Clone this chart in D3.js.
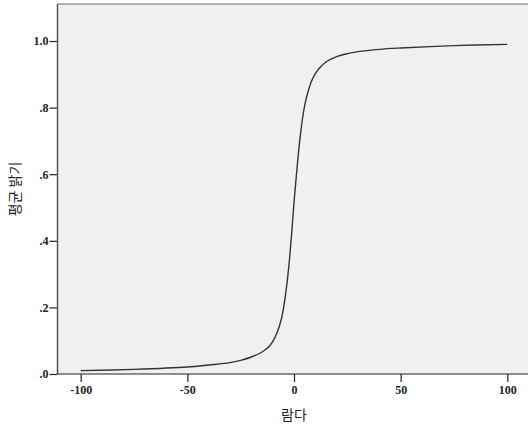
<!DOCTYPE html>
<html><head><meta charset="utf-8">
<script src="https://cdn.jsdelivr.net/npm/d3@7"></script>
<style>body{margin:0;background:#fff}</style>
</head><body>
<script>
const lambda = [-100,-75,-50,-40,-30,-25,-20,-15,-12,-10,-8,-6,-5,-4,-3,-2,-1,0,1,2,3,4,5,6,8,10,12,15,20,25,30,40,50,75,100];
const brightness = [0.010,0.014,0.021,0.027,0.034,0.041,0.051,0.066,0.080,0.097,0.123,0.163,0.195,0.237,0.288,0.352,0.430,0.515,0.588,0.658,0.718,0.768,0.806,0.834,0.876,0.902,0.919,0.937,0.953,0.962,0.968,0.975,0.979,0.986,0.990];
const xTicks = [-100,-50,0,50,100];
const xTickLabels = ["-100","-50","0","50","100"];
const yTicks = [0,0.2,0.4,0.6,0.8,1.0];
const yTickLabels = [".0",".2",".4",".6",".8","1.0"];

(function(){
const W=528,H=425;
const svg=d3.select("body").append("svg").attr("width",W).attr("height",H);
const pL=57.5, pT=4, pR=530, pB=374;
const x=d3.scaleLinear().domain([-100,100]).range([80.7,507.3]);
const y=d3.scaleLinear().domain([0,1]).range([374,41]);

svg.append("rect").attr("x",pL).attr("y",pT).attr("width",pR-pL).attr("height",pB-pT).attr("fill","#f0f0f0");
svg.append("line").attr("x1",pL).attr("x2",pR).attr("y1",pT).attr("y2",pT).attr("stroke","#999").attr("stroke-width",1.5);

const line=d3.line().x((d,i)=>x(lambda[i])).y(d=>y(d)).curve(d3.curveCatmullRom.alpha(0.5));
svg.append("path").datum(brightness).attr("d",line).attr("fill","none").attr("stroke","#333").attr("stroke-width",1.4);

const font="'Liberation Serif','DejaVu Serif',serif";
const yAxis=svg.append("g").attr("transform",`translate(${pL},0)`)
  .call(d3.axisLeft(y).tickValues(yTicks).tickFormat((d,i)=>yTickLabels[i]).tickSize(8).tickSizeOuter(0));
yAxis.select(".domain").remove();
yAxis.append("line").attr("x1",0).attr("x2",0).attr("y1",pT).attr("y2",pB).attr("stroke","#555").attr("stroke-width",1.5);
yAxis.selectAll(".tick line").attr("stroke","#222").attr("stroke-width",1.2);
yAxis.selectAll("text").attr("font-family",font).attr("font-weight","bold").attr("font-size",12).attr("fill","#222").attr("x",-9);

const xAxis=svg.append("g").attr("transform",`translate(0,${pB})`)
  .call(d3.axisBottom(x).tickValues(xTicks).tickFormat((d,i)=>xTickLabels[i]).tickSize(8).tickSizeOuter(0));
xAxis.select(".domain").remove();
xAxis.append("line").attr("x1",pL).attr("x2",pR).attr("y1",0).attr("y2",0).attr("stroke","#222").attr("stroke-width",1.2);
xAxis.selectAll(".tick line").attr("stroke","#222").attr("stroke-width",1.2);
xAxis.selectAll("text").attr("font-family",font).attr("font-weight","bold").attr("font-size",12).attr("fill","#222").attr("y",11);

svg.append("text").attr("x",294).attr("y",420).attr("text-anchor","middle")
  .attr("font-family","'Noto Sans CJK KR',sans-serif").attr("font-size",14).attr("fill","#222").text("람다");
svg.append("text").attr("transform","translate(20,189) rotate(-90)").attr("text-anchor","middle")
  .attr("font-family","'Noto Sans CJK KR',sans-serif").attr("font-size",14).attr("fill","#222").text("평균 밝기");
})();
</script>
</body></html>
